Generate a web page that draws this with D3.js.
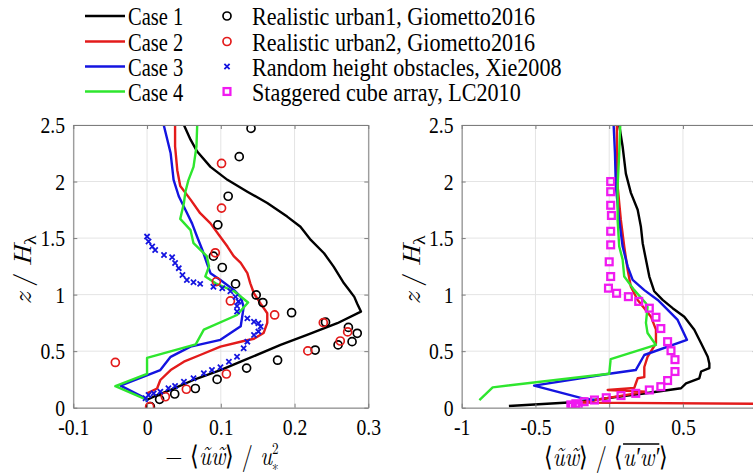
<!DOCTYPE html>
<html>
<head>
<meta charset="utf-8">
<script src="https://cdn.jsdelivr.net/npm/d3@7"></script>
<style>
  body { margin: 0; background: #fff; }
  svg { display: block; }
</style>
</head>
<body>
<svg id="chart" width="753" height="475"></svg>
<script>
// values, each point is [x value, z/H]
const yTicks = [0, 0.5, 1, 1.5, 2, 2.5];
const leftXTicks = [-0.1, 0, 0.1, 0.2, 0.3];
const rightXTicks = [-1, -0.5, 0, 0.5, 1];

const caseNames = ['Case 1', 'Case 2', 'Case 3', 'Case 4'];
const caseColors = ['#000000', '#e31b1b', '#1414e0', '#2ee62e'];
const refNames = ['Realistic urban1, Giometto2016', 'Realistic urban2, Giometto2016',
                  'Random height obstacles, Xie2008', 'Staggered cube array, LC2010'];

// left panel: -<uw>/u*^2
const leftCase1 = [[0.05,2.5],[0.059,2.37],[0.068,2.265],[0.086,2.13],[0.109,2.015],[0.136,1.91],[0.163,1.81],
  [0.19,1.69],[0.208,1.6],[0.222,1.484],[0.24,1.366],[0.253,1.248],[0.267,1.1],[0.274,1.04],[0.281,0.98],
  [0.285,0.92],[0.29,0.85],[0.258,0.747],[0.217,0.643],[0.181,0.555],[0.127,0.407],[0.0995,0.333],
  [0.063,0.245],[0.032,0.157],[0.009,0.097],[0,0.07]];
const leftCase2 = [[0.038,2.5],[0.038,2.31],[0.041,2.1],[0.045,1.96],[0.059,1.84],[0.072,1.72],[0.086,1.63],
  [0.0995,1.51],[0.109,1.425],[0.1175,1.34],[0.127,1.28],[0.136,1.19],[0.14,1.1],[0.145,1.01],[0.154,0.92],
  [0.163,0.835],[0.163,0.75],[0.158,0.66],[0.145,0.61],[0.131,0.59],[0.0995,0.54],[0.072,0.466],[0.05,0.407],
  [0.032,0.333],[0.018,0.245],[0.0136,0.17],[0,0.127]];
const leftCase3 = [[0.0226,2.5],[0.032,2.25],[0.036,2.015],[0.043,1.87],[0.052,1.75],[0.061,1.63],[0.068,1.51],
  [0.075,1.395],[0.081,1.28],[0.086,1.19],[0.0995,1.13],[0.118,1.04],[0.127,0.98],[0.131,0.89],[0.127,0.72],
  [0.0995,0.6],[0.059,0.54],[0.032,0.45],[0.018,0.333],[-0.036,0.195],[-0.002,0.083],[0,0.05]];
const leftCase4 = [[0.068,2.5],[0.067,2.31],[0.063,2.13],[0.056,2.01],[0.052,1.91],[0.05,1.81],[0.045,1.67],
  [0.059,1.57],[0.063,1.455],[0.081,1.34],[0.084,1.25],[0.079,1.16],[0.093,1.1],[0.118,1.03],[0.137,0.93],
  [0.122,0.82],[0.077,0.69],[0.066,0.56],[0,0.44],[0,0.3],[-0.043,0.19],[0,0.07]];
const urban1Left = [[0.141,2.47],[0.125,2.22],[0.11,1.87],[0.096,1.617],[0.09,1.34],[0.102,1.24],[0.12,1.095],
  [0.148,0.997],[0.157,0.93],[0.196,0.84],[0.242,0.756],[0.273,0.71],[0.285,0.658],[0.278,0.584],[0.259,0.555],
  [0.228,0.51],[0.177,0.42],[0.135,0.35],[0.095,0.25],[0.0655,0.17],[0.0375,0.121],[0.017,0.074],[0.0045,0.009]];
const urban2Left = [[0.101,2.16],[0.101,1.765],[0.0925,1.37],[0.094,1.115],[0.113,0.944],[0.173,0.82],
  [0.239,0.752],[0.272,0.67],[0.262,0.59],[0.218,0.502],[-0.043,0.4],[0.1076,0.298],[0.0533,0.163],
  [0.0248,0.097],[0.0035,0.009]];
const xieLeft = [[0,1.513],[0.002,1.47],[0.007,1.425],[0.011,1.395],[0.023,1.35],[0.034,1.33],[0.038,1.28],
  [0.043,1.234],[0.048,1.174],[0.054,1.13],[0.063,1.11],[0.072,1.095],[0.09,1.07],[0.102,1.056],[0.113,1.03],
  [0.12,0.98],[0.124,0.94],[0.122,0.9],[0.122,0.85],[0.136,0.79],[0.145,0.76],[0.151,0.747],[0.154,0.717],
  [0.151,0.673],[0.145,0.643],[0.136,0.584],[0.131,0.525],[0.122,0.45],[0.111,0.407],[0.0995,0.357],
  [0.088,0.333],[0.077,0.304],[0.063,0.26],[0.05,0.23],[0.038,0.192],[0.029,0.172],[0.018,0.142],
  [0.009,0.127],[0.002,0.112],[-0.002,0.083]];

// right panel: <uw> / <u'w'>
const rightCase1 = [[0.068,2.5],[0.091,2.31],[0.113,2.07],[0.147,1.9],[0.193,1.75],[0.215,1.6],[0.227,1.455],
  [0.249,1.31],[0.272,1.16],[0.305,1.03],[0.362,0.953],[0.43,0.88],[0.509,0.805],[0.577,0.69],[0.623,0.57],
  [0.668,0.45],[0.679,0.39],[0.679,0.35],[0.623,0.32],[0.611,0.26],[0.521,0.216],[0.487,0.172],[0.26,0.13],
  [0.034,0.092],[-0.19,0.053],[-0.68,0.015]];
const rightCase2 = [[0.052,2.5],[0.052,2.25],[0.057,1.96],[0.079,1.66],[0.102,1.425],[0.125,1.22],[0.147,1.07],
  [0.193,0.953],[0.238,0.88],[0.283,0.805],[0.317,0.69],[0.317,0.57],[0.26,0.45],[0.238,0.36],[0.238,0.27],
  [0.193,0.26],[0.181,0.216],[0.17,0.175],[-0.01,0.157],[0.25,0.142],[-0.2,0.045],[1.0,0.035]];
const rightCase3 = [[0.03,2.5],[0.039,2.25],[0.045,1.96],[0.068,1.66],[0.091,1.425],[0.125,1.25],[0.159,1.13],
  [0.238,1.04],[0.329,0.953],[0.385,0.88],[0.464,0.776],[0.527,0.6],[0.238,0.466],[0.18,0.333],[0,0.3],
  [-0.509,0.195],[-0.18,0.083],[-0.1,0.068]];
const rightCase4 = [[0.075,2.5],[0.068,2.25],[0.057,1.96],[0.057,1.66],[0.068,1.425],[0.091,1.31],[0.102,1.16],
  [0.17,1.04],[0.249,0.924],[0.26,0.89],[0.249,0.75],[0.26,0.66],[0.317,0.555],[0.01,0.43],[0,0.3],
  [-0.79,0.18],[-0.88,0.068]];
const lcRight = [[0.01,2.0],[0.01,1.91],[0.01,1.79],[0.015,1.7],[0.01,1.56],[0.01,1.44],[0,1.29],[0.01,1.16],
  [-0.005,1.057],[0.05,1.012],[0.13,0.982],[0.2,0.94],[0.272,0.88],[0.317,0.8],[0.35,0.7],[0.396,0.584],
  [0.419,0.504],[0.446,0.425],[0.446,0.32],[0.396,0.24],[0.35,0.186],[0.272,0.157],[0.18,0.127],[0.08,0.107],
  [-0.02,0.088],[-0.1,0.068],[-0.17,0.053],[-0.226,0.035],[-0.25,0.015],[-0.26,0.025],[-0.21,0.02],[-0.23,0.01]];

const SQ = 0.82; // the figure is a bit squeezed horizontally
const FONT = "'Liberation Serif', 'Times New Roman', serif";
const MATH = "'Latin Modern Roman', 'Liberation Serif', serif";
const axisGray = '#7d7d7d';
const svg = d3.select('#chart');

function addText(parent, x, y, size, anchor, family, squeeze) {
    return parent.append('text')
        .attr('transform', `translate(${x},${y}) scale(${squeeze || SQ},1)`)
        .style('font-family', family || FONT)
        .attr('font-size', size)
        .attr('text-anchor', anchor || 'start')
        .attr('fill', '#000');
}

function drawMarker(g, type, x, y) {
    if (type == 'circle-k' || type == 'circle-r') {
        g.append('circle').attr('cx', x).attr('cy', y).attr('r', 4)
            .attr('fill', 'none').attr('stroke-width', 1.7)
            .attr('stroke', type == 'circle-k' ? '#000' : '#e31b1b');
    } else if (type == 'cross') {
        const s = 2.6;
        g.append('path').attr('d', `M${x-s},${y-s}L${x+s},${y+s}M${x-s},${y+s}L${x+s},${y-s}`)
            .attr('stroke', '#1414e0').attr('stroke-width', 1.8);
    } else {
        g.append('rect').attr('x', x - 3.4).attr('y', y - 3.4).attr('width', 6.8).attr('height', 6.8)
            .attr('fill', 'none').attr('stroke', '#f01af0').attr('stroke-width', 2.3);
    }
}

class ProfilePlot {
    constructor(_config, _lines, _markers) {
        this.config = {
            left: _config.left,
            top: _config.top || 125,
            width: _config.width || 295,
            height: _config.height || 282.7,
            xDomain: _config.xDomain,
            xTicks: _config.xTicks,
            hideLabels: _config.hideLabels || [],
            id: _config.id
        }
        this.lines = _lines;
        this.markers = _markers;
        this.initVis();
    }

    initVis() {
        let vis = this;
        vis.width = vis.config.width;
        vis.height = vis.config.height;

        vis.xScale = d3.scaleLinear().domain(vis.config.xDomain).range([0, vis.width]);
        vis.yScale = d3.scaleLinear().domain([0, 2.5]).range([vis.height, 0]);

        vis.chart = svg.append('g')
            .attr('transform', `translate(${vis.config.left},${vis.config.top})`);

        vis.chart.append('clipPath').attr('id', 'clip-' + vis.config.id)
            .append('rect').attr('width', vis.width).attr('height', vis.height);

        // grid lines
        const grid = vis.chart.append('g').attr('stroke', '#e4e4e4').attr('stroke-width', 1);
        grid.selectAll('.gx').data(vis.config.xTicks).join('line')
            .attr('x1', d => vis.xScale(d)).attr('x2', d => vis.xScale(d))
            .attr('y1', 0).attr('y2', vis.height);
        grid.selectAll('.gy').data(yTicks).join('line')
            .attr('x1', 0).attr('x2', vis.width)
            .attr('y1', d => vis.yScale(d)).attr('y2', d => vis.yScale(d));

        vis.renderVis();
    }

    renderVis() {
        let vis = this;
        const plot = vis.chart.append('g').attr('clip-path', `url(#clip-${vis.config.id})`);

        const line = d3.line().x(d => vis.xScale(d[0])).y(d => vis.yScale(d[1]));
        vis.lines.forEach((pts, i) => {
            plot.append('path').datum(pts)
                .attr('d', line)
                .attr('fill', 'none')
                .attr('stroke', caseColors[i])
                .attr('stroke-width', 2.4)
                .attr('stroke-linejoin', 'round');
        });

        vis.markers.forEach(m => {
            m.data.forEach(d => drawMarker(plot, m.type, vis.xScale(d[0]), vis.yScale(d[1])));
        });

        // axes, ticks pointing inward like matlab
        const hide = vis.config.hideLabels;
        const xAxis = d3.axisBottom(vis.xScale).tickValues(vis.config.xTicks)
            .tickSizeInner(-4).tickSizeOuter(0).tickPadding(10)
            .tickFormat(d => hide.includes(d) ? '' : String(d));
        const yAxis = d3.axisLeft(vis.yScale).tickValues(yTicks)
            .tickSizeInner(-4).tickSizeOuter(0).tickPadding(10).tickFormat(d => String(d));
        const xTop = d3.axisTop(vis.xScale).tickValues(vis.config.xTicks)
            .tickSizeInner(-4).tickSizeOuter(0).tickFormat('');
        const yRight = d3.axisRight(vis.yScale).tickValues(yTicks)
            .tickSizeInner(-4).tickSizeOuter(0).tickFormat('');

        const gx = vis.chart.append('g').attr('transform', `translate(0,${vis.height})`).call(xAxis);
        const gy = vis.chart.append('g').call(yAxis);
        const gt = vis.chart.append('g').call(xTop);
        const gr = vis.chart.append('g').attr('transform', `translate(${vis.width},0)`).call(yRight);

        [gx, gy, gt, gr].forEach(g => {
            g.selectAll('.domain').attr('stroke', axisGray);
            g.selectAll('.tick line').attr('stroke', axisGray);
            g.selectAll('.tick text')
                .style('font-family', FONT)
                .attr('font-size', 24).attr('fill', '#000')
                .attr('transform', `scale(${SQ},1)`);
        });
    }
}

new ProfilePlot({ left: 73.3, xDomain: [-0.1, 0.3], xTicks: leftXTicks, id: 'l' },
    [leftCase1, leftCase2, leftCase3, leftCase4],
    [{ type: 'circle-k', data: urban1Left }, { type: 'circle-r', data: urban2Left },
     { type: 'cross', data: xieLeft }]);

// the "1" label of the right panel falls outside the cropped figure
new ProfilePlot({ left: 461.7, xDomain: [-1, 1], xTicks: rightXTicks, hideLabels: [1], id: 'r' },
    [rightCase1, rightCase2, rightCase3, rightCase4],
    [{ type: 'square', data: lcRight }]);

// axis titles
[20, 409].forEach(x => {
    const t = svg.append('text')
        .attr('transform', `translate(${x + 11},270) rotate(-90) scale(1,${SQ})`)
        .style('font-family', MATH)
        .attr('text-anchor', 'middle').attr('font-size', 29);
    t.append('tspan').attr('font-style', 'italic').text('z');
    t.append('tspan').text('\u2009/\u2009');
    t.append('tspan').attr('font-style', 'italic').text('H');
    t.append('tspan').attr('font-size', 20).attr('dy', 6).text('λ');
});

const xl = addText(svg, 222, 465, 27, 'middle', MATH);
xl.append('tspan').text('− ⟨');
xl.append('tspan').attr('font-style', 'italic').text('ũw̃');
xl.append('tspan').text('⟩ / ');
xl.append('tspan').attr('font-style', 'italic').text('u');
xl.append('tspan').attr('font-size', 16).attr('dy', -11).text('2');
xl.append('tspan').attr('font-size', 16).attr('dx', -8).attr('dy', 17).text('∗');

// right label, the bar over u'w' is drawn as a line
const xrGroup = svg.append('g').attr('transform', `translate(606,466) scale(${SQ},1)`);
const xr = xrGroup.append('text')
    .style('font-family', MATH).attr('font-size', 27).attr('text-anchor', 'middle');
xr.append('tspan').text('⟨');
xr.append('tspan').attr('font-style', 'italic').text('ũw̃');
xr.append('tspan').text('⟩ / ⟨');
xr.append('tspan').attr('font-style', 'italic').text('u′w′');
xr.append('tspan').text('⟩');
const node = xr.node();
const barStart = node.getStartPositionOfChar(9).x;
const barEnd = node.getEndPositionOfChar(12).x;
xrGroup.append('line')
    .attr('x1', barStart).attr('x2', barEnd)
    .attr('y1', -22).attr('y2', -22)
    .attr('stroke', '#000').attr('stroke-width', 1.3);

// legend
const legend = svg.append('g');
const legendY = [16, 41.5, 66.5, 91.5];
caseNames.forEach((name, i) => {
    legend.append('line').attr('x1', 85).attr('x2', 125)
        .attr('y1', legendY[i]).attr('y2', legendY[i])
        .attr('stroke', caseColors[i]).attr('stroke-width', 2.4);
    addText(legend, 128, legendY[i] + 9, 25).text(name);
});
const markerTypes = ['circle-k', 'circle-r', 'cross', 'square'];
refNames.forEach((name, i) => {
    drawMarker(legend, markerTypes[i], 227, legendY[i]);
    addText(legend, 252, legendY[i] + 9, 25, 'start', FONT, 0.885).text(name);
});
</script>
</body>
</html>
